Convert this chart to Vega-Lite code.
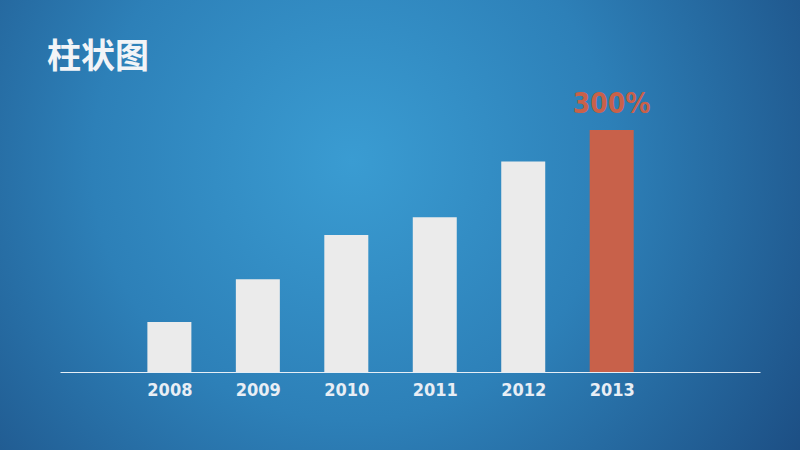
{
  "$schema": "https://vega.github.io/schema/vega-lite/v6.json",
  "width": 800,
  "height": 450,
  "autosize": {"type": "none"},
  "padding": 0,
  "background": "#1d4f84",
  "config": {
    "view": {
      "stroke": null,
      "fill": {
        "gradient": "radial",
        "x1": 0.44, "y1": 0.42, "r1": 0,
        "x2": 0.44, "y2": 0.42, "r2": 0.72,
        "stops": [
          {"offset": 0, "color": "#3a9cd2"},
          {"offset": 0.45, "color": "#2d80b8"},
          {"offset": 1, "color": "#1a477c"}
        ]
      }
    }
  },
  "title": {
    "text": "柱状图",
    "anchor": "start",
    "frame": "group",
    "orient": "top",
    "offset": 0,
    "dx": 47,
    "dy": 75,
    "baseline": "top",
    "font": "Noto Sans CJK SC",
    "fontSize": 34,
    "fontWeight": "bold",
    "color": "#f2f4f7"
  },
  "data": {
    "values": [
      {"year": 2008, "value": 62, "label": null},
      {"year": 2009, "value": 115, "label": null},
      {"year": 2010, "value": 170, "label": null},
      {"year": 2011, "value": 192, "label": null},
      {"year": 2012, "value": 261, "label": null},
      {"year": 2013, "value": 300, "label": "300%"}
    ]
  },
  "encoding": {
    "x": {
      "field": "year",
      "type": "quantitative",
      "scale": {"domain": [2006.82, 2014.62], "range": [60, 760], "zero": false, "nice": false},
      "axis": {
        "title": null,
        "values": [2008, 2009, 2010, 2011, 2012, 2013],
        "format": "d",
        "offset": -78,
        "grid": false,
        "ticks": false,
        "domainColor": "#e6eef6",
        "domainWidth": 1.2,
        "labelColor": "#e8eef5",
        "labelFont": "DejaVu Sans Condensed, sans-serif",
        "labelFontSize": 18,
        "labelFontWeight": "bold",
        "labelPadding": 9,
        "labelFlush": false,
        "labelOverlap": false
      }
    },
    "y": {
      "field": "value",
      "type": "quantitative",
      "scale": {"domain": [-96.7, 461.2], "nice": false, "zero": false},
      "axis": null
    }
  },
  "layer": [
    {
      "mark": {"type": "bar", "size": 44},
      "encoding": {
        "color": {
          "condition": {"test": "datum.year == 2013", "value": "#c8614a"},
          "value": "#ebebeb"
        }
      }
    },
    {
      "transform": [{"filter": "datum.label != null"}],
      "mark": {
        "type": "text",
        "baseline": "alphabetic",
        "dy": -17,
        "font": "DejaVu Sans Condensed, sans-serif",
        "fontSize": 28,
        "fontWeight": "bold",
        "color": "#c8614a"
      },
      "encoding": {"text": {"field": "label"}}
    }
  ]
}
